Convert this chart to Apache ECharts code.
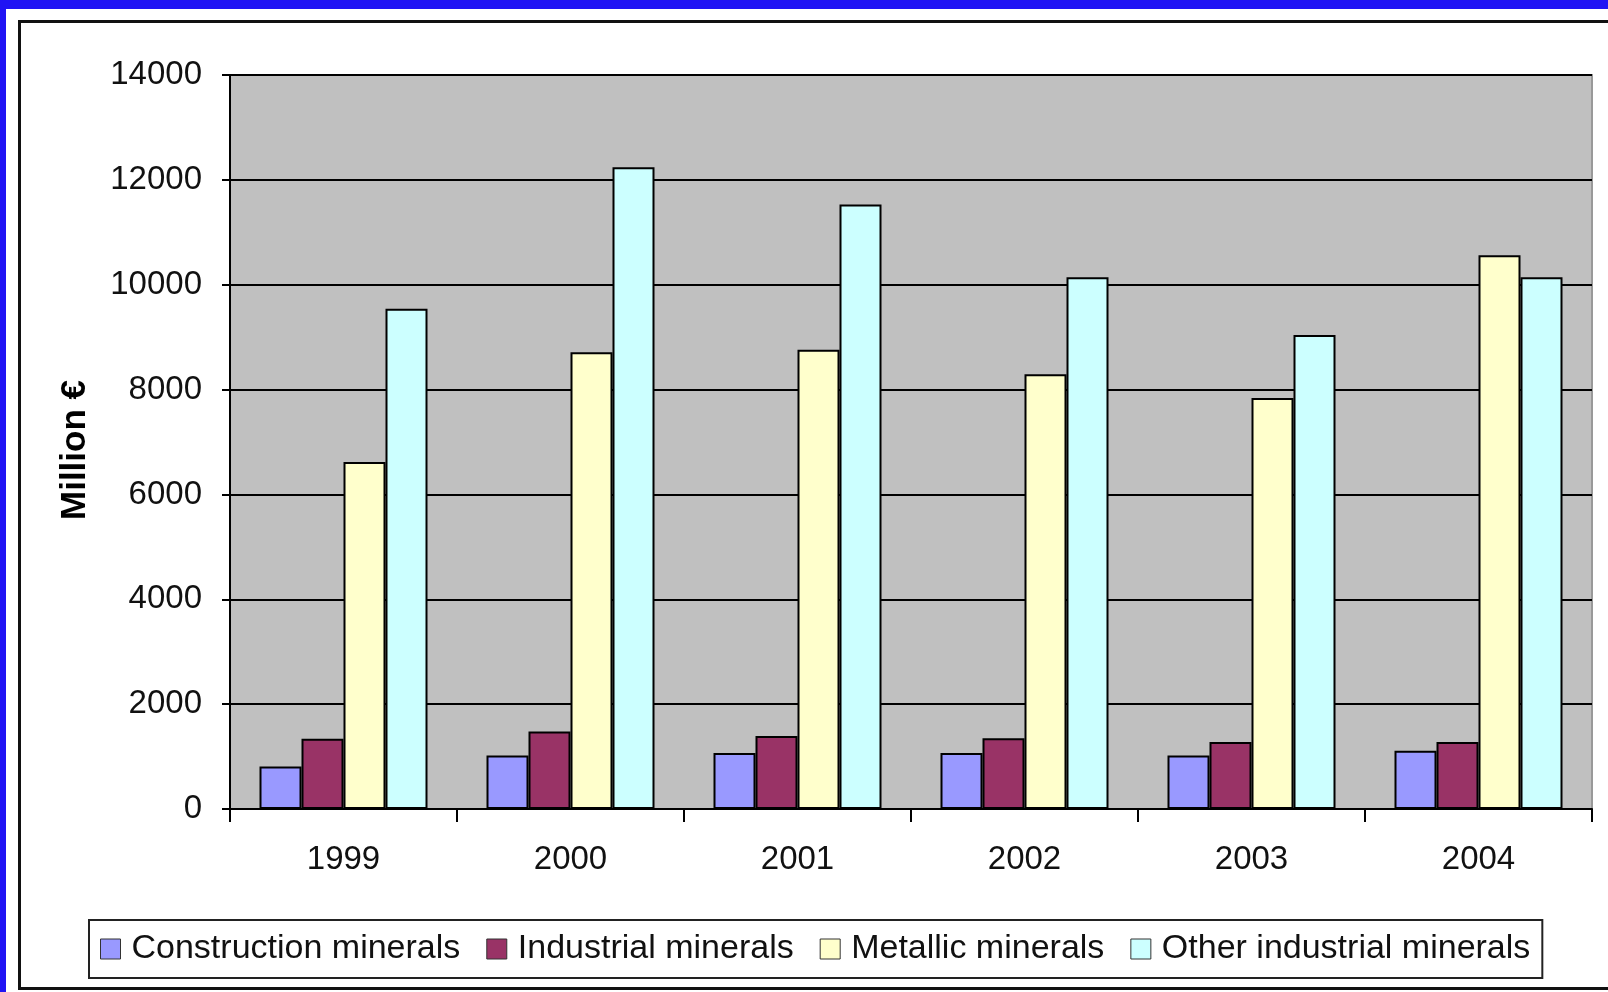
<!DOCTYPE html>
<html>
<head>
<meta charset="utf-8">
<script src="https://cdn.jsdelivr.net/npm/echarts@6/dist/echarts.min.js"></script>
<style>
  html, body { margin: 0; padding: 0; background: #ffffff; }
  #chart { width: 1608px; height: 992px; }
</style>
</head>
<body>
<div id="chart"></div>
<script>
// ---- data ----
const years = ['1999', '2000', '2001', '2002', '2003', '2004'];
const seriesNames = ['Construction minerals', 'Industrial minerals', 'Metallic minerals', 'Other industrial minerals'];
const construction = [810, 1020, 1070, 1070, 1020, 1110];
const industrial = [1340, 1480, 1390, 1350, 1280, 1280];
const metallic = [6620, 8710, 8760, 8290, 7840, 10560];
const otherIndustrial = [9540, 12240, 11530, 10140, 9040, 10140];
const yTicks = [0, 2000, 4000, 6000, 8000, 10000, 12000, 14000];
const yAxisTitle = 'Million €';

const colors = ['#9999FF', '#993366', '#FFFFCC', '#CCFFFF'];
const values = [construction, industrial, metallic, otherIndustrial];
const FONT = '"Liberation Sans", Arial, sans-serif';

const chart = echarts.init(document.getElementById('chart'), null, { renderer: 'canvas' });

const option = {
  backgroundColor: '#ffffff',
  animation: false,
  color: colors,
  graphic: [
    { type: 'rect', z: 0, shape: { x: 0, y: 0, width: 1608, height: 9 }, style: { fill: '#2014F4' } },
    { type: 'rect', z: 0, shape: { x: 0, y: 0, width: 6, height: 992 }, style: { fill: '#2014F4' } },
    { type: 'rect', z: 0, shape: { x: 19.5, y: 21.5, width: 1620, height: 967 }, style: { fill: 'none', stroke: '#111', lineWidth: 3 } },
    {
      type: 'text', z: 10, x: 75, y: 450, rotation: Math.PI / 2,
      style: { text: yAxisTitle, font: 'bold 35px ' + FONT, fill: '#000', textAlign: 'center', textVerticalAlign: 'middle' }
    }
  ],
  grid: {
    left: 230, right: 16, top: 75, bottom: 183,
    show: true, backgroundColor: '#C0C0C0', borderColor: '#999', borderWidth: 2
  },
  legend: {
    data: seriesNames,
    left: 89, top: 920,
    padding: [12, 12, 12, 11],
    itemWidth: 20, itemHeight: 20, itemGap: 26,
    borderColor: '#222', borderWidth: 2, backgroundColor: '#fff',
    icon: 'rect',
    itemStyle: { borderColor: '#333', borderWidth: 1 },
    textStyle: { fontFamily: FONT, fontSize: 34, color: '#111', padding: [0, 0, 0, 6] }
  },
  xAxis: {
    type: 'category',
    data: years,
    boundaryGap: true,
    axisLine: { lineStyle: { color: '#000', width: 2 } },
    axisTick: { show: true, length: 13, lineStyle: { color: '#000', width: 2 } },
    axisLabel: { fontFamily: FONT, fontSize: 33, color: '#111', margin: 34 },
    splitLine: { show: false }
  },
  yAxis: {
    type: 'value',
    min: yTicks[0], max: yTicks[yTicks.length - 1], interval: 2000,
    axisLine: { show: true, lineStyle: { color: '#000', width: 2 } },
    axisTick: { show: true, length: 8, lineStyle: { color: '#000', width: 2 } },
    axisLabel: { fontFamily: FONT, fontSize: 33, color: '#111', margin: 28, formatter: (v) => String(v) },
    splitLine: { show: true, lineStyle: { color: '#000', width: 2 } }
  },
  series: seriesNames.map((name, i) => ({
    name: name,
    type: 'bar',
    data: values[i],
    barWidth: 42,
    barGap: '0%',
    itemStyle: { color: colors[i], borderColor: '#000', borderWidth: 2 }
  }))
};

chart.setOption(option);
</script>
</body>
</html>
